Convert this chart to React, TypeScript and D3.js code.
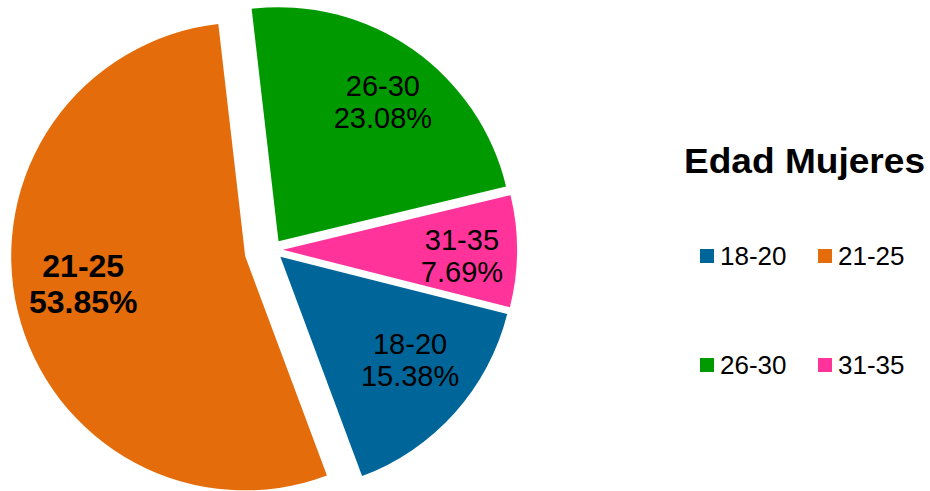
import React from "react";
import * as d3 from "d3";

const CATEGORIES = ["18-20", "21-25", "26-30", "31-35"];
const VALUES = [2, 7, 3, 1];
const COLORS = ["#006699", "#E46C0A", "#009900", "#FF3399"];
const EXPLODE = [0.045, 0.12, 0.045, 0.045];
const BOLD_LABEL = [false, true, false, false];
const TITLE = "Edad Mujeres";

export default function App() {
  const W = 930, H = 491;
  const cx = 272.5, cy = 249.8, R = 234;
  const total = d3.sum(VALUES);
  const start = (104.17 * Math.PI) / 180;
  const pie = d3
    .pie<number>()
    .sort(null)
    .value((d) => d)
    .startAngle(start)
    .endAngle(start + 2 * Math.PI);
  const arcs = pie(VALUES);
  const arcGen = d3.arc<d3.PieArcDatum<number>>().innerRadius(0).outerRadius(R);
  const font = "'Liberation Sans', Arial, Helvetica, sans-serif";

  // label placement (fraction of radius, angular nudge in degrees) per slice
  const labelRadius = [0.708, 0.702, 0.744, 0.765];
  const labelNudge = [-3.4, 4, 1.9, 1.6];

  const legendCols = [700, 818];
  const legendRows = [249, 358];

  return (
    <div style={{ position: "fixed", left: 0, top: 0 }}>
      <svg width={W} height={H} style={{ display: "block", background: "#fff" }}>
        <g transform={`translate(${cx},${cy})`}>
          {arcs.map((a, i) => {
            const mid = (a.startAngle + a.endAngle) / 2;
            const off = EXPLODE[i] * R;
            const ox = Math.sin(mid) * off;
            const oy = -Math.cos(mid) * off;
            return (
              <path
                key={CATEGORIES[i]}
                d={arcGen(a) || ""}
                fill={COLORS[i]}
                transform={`translate(${ox},${oy})`}
              />
            );
          })}
          {arcs.map((a, i) => {
            const mid = (a.startAngle + a.endAngle) / 2;
            const off = EXPLODE[i] * R;
            const ex = Math.sin(mid) * off;
            const ey = -Math.cos(mid) * off;
            const la = mid + (labelNudge[i] * Math.PI) / 180;
            const lr = labelRadius[i] * R;
            const lx = ex + Math.sin(la) * lr;
            const ly = ey - Math.cos(la) * lr;
            const bold = BOLD_LABEL[i];
            const fs = bold ? 32 : 29;
            const sp = bold ? 36.5 : 32.4;
            const h = 0.716 * fs;
            const b1 = ly - (sp - h) / 2;
            const pct = ((VALUES[i] / total) * 100).toFixed(2) + "%";
            return (
              <text
                key={"l" + i}
                x={lx}
                y={b1}
                textAnchor="middle"
                fontFamily={font}
                fontSize={fs}
                fontWeight={bold ? "bold" : "normal"}
                fill="#000"
              >
                <tspan x={lx} y={b1}>{CATEGORIES[i]}</tspan>
                <tspan x={lx} y={b1 + sp}>{pct}</tspan>
              </text>
            );
          })}
        </g>
        <text
          x={684}
          y={173}
          fontFamily={font}
          fontSize={34.5}
          fontWeight="bold"
          fill="#000"
          textLength={241}
          lengthAdjust="spacingAndGlyphs"
        >
          {TITLE}
        </text>
        {CATEGORIES.map((c, i) => {
          const x = legendCols[i % 2];
          const y = legendRows[Math.floor(i / 2)];
          return (
            <g key={"lg" + c}>
              <rect x={x} y={y} width={14} height={14} fill={COLORS[i]} />
              <text x={x + 20} y={y + 16} fontFamily={font} fontSize={26} fill="#000">
                {c}
              </text>
            </g>
          );
        })}
      </svg>
    </div>
  );
}
